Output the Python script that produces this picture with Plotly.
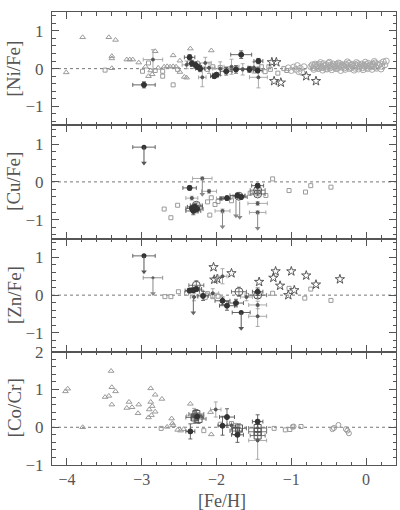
import plotly.graph_objects as go
from plotly.subplots import make_subplots

# ---------------- data ----------------
X_RANGE = [-4.2, 0.4]
X_TICKS = [-4, -3, -2, -1, 0]
PANEL_LABELS = ["[Ni/Fe]", "[Cu/Fe]", "[Zn/Fe]", "[Co/Cr]"]
PANEL_RANGES = [[-1.5, 1.5], [-1.5, 1.5], [-1.5, 1.5], [-1.0, 2.0]]
PANEL_TICKS = [[-1, 0, 1], [-1, 0, 1], [-1, 0, 1], [-1, 0, 1, 2]]

# ---- [Ni/Fe] ----
NI_TRI = [(-4.01, -0.10), (-3.79, 0.83), (-3.44, 0.83), (-3.35, 0.76), (-3.40, 0.33),
          (-3.40, 0.27), (-3.40, 0.01), (-3.20, 0.24), (-3.16, 0.24), (-3.12, 0.24),
          (-3.04, 0.16), (-2.95, 0.05), (-2.82, 0.46), (-2.88, -0.05), (-2.86, -0.15),
          (-2.91, -0.20), (-2.78, 0.02), (-2.70, 0.05), (-2.66, 0.06), (-2.62, 0.05),
          (-2.58, 0.06), (-2.54, 0.05), (-2.58, 0.35), (-2.49, -0.09), (-2.43, -0.22),
          (-2.49, 0.21), (-2.35, 0.53), (-2.40, -0.24), (-2.07, 0.48), (-2.25, 0.15)]
NI_SQ = [(-3.49, -0.04), (-2.99, -0.07), (-2.91, 0.15), (-2.72, -0.07), (-2.72, -0.20),
         (-2.58, -0.43), (-2.52, -0.02), (-2.82, -0.05), (-2.05, 0.05), (-2.12, -0.02),
         (-1.95, 0.03), (-1.55, 0.00), (-1.40, 0.05), (-1.35, -0.08), (-1.30, 0.05),
         (-1.28, -0.02), (-1.18, -0.12), (-1.10, 0.00), (-1.06, -0.05)]
NI_DISK = [(-1.04, 0.02), (-1.00, -0.05), (-0.97, 0.04), (-0.94, -0.02), (-0.92, 0.08),
           (-0.90, -0.08), (-0.88, 0.01), (-0.86, -0.10), (-0.83, 0.05),
           (-0.74, 0.05), (-0.72, 0.10), (-0.71, 0.02), (-0.69, 0.08), (-0.68, 0.12),
           (-0.66, 0.04), (-0.65, 0.09), (-0.63, 0.01), (-0.62, 0.11), (-0.60, 0.06),
           (-0.59, 0.03), (-0.57, 0.13), (-0.56, 0.07), (-0.54, 0.00), (-0.53, 0.10),
           (-0.51, 0.05), (-0.50, 0.14), (-0.48, 0.02), (-0.47, 0.09), (-0.45, 0.06),
           (-0.44, 0.12), (-0.42, 0.03), (-0.41, 0.08), (-0.39, 0.11), (-0.38, 0.01),
           (-0.36, 0.07), (-0.35, 0.13), (-0.33, 0.04), (-0.32, 0.10), (-0.30, 0.06),
           (-0.29, 0.02), (-0.27, 0.12), (-0.26, 0.08), (-0.24, 0.05), (-0.23, 0.14),
           (-0.21, 0.03), (-0.20, 0.09), (-0.18, 0.11), (-0.17, 0.06), (-0.15, 0.01),
           (-0.14, 0.10), (-0.12, 0.07), (-0.11, 0.13), (-0.09, 0.04), (-0.08, 0.08),
           (-0.06, 0.12), (-0.05, 0.02), (-0.03, 0.09), (-0.02, 0.06), (0.00, 0.11),
           (0.01, 0.03), (0.03, 0.14), (0.04, 0.07), (0.06, 0.10), (0.07, 0.05),
           (0.09, 0.12), (0.10, 0.08), (0.12, 0.15), (0.13, 0.04), (0.15, 0.11),
           (0.17, 0.09), (0.19, 0.13), (0.21, 0.06), (0.23, 0.18), (0.25, 0.10),
           (0.27, 0.20),
           (-0.70, -0.02), (-0.64, 0.00), (-0.58, -0.04), (-0.52, -0.01), (-0.46, -0.03),
           (-0.40, 0.00), (-0.34, -0.05), (-0.28, -0.02), (-0.22, 0.00), (-0.16, -0.04),
           (-0.10, -0.01), (-0.04, -0.03), (0.02, 0.00), (0.08, -0.02), (0.14, 0.01),
           (0.20, -0.01), (-0.61, 0.16), (-0.49, 0.17), (-0.37, 0.15), (-0.25, 0.18),
           (-0.13, 0.16), (-0.01, 0.17), (0.11, 0.19)]
NI_STAR = [(-1.20, 0.17), (-1.26, 0.17), (-1.23, -0.33), (-1.14, -0.37), (-0.80, -0.20),
           (-0.67, -0.33)]
# (x, y, x-error, y-error)
NI_DOT = [(-2.97, -0.43, 0.15, 0.08), (-2.36, 0.30, 0.07, 0.07), (-1.67, 0.37, 0.14, 0.10),
          (-1.44, 0.20, 0.06, 0.07), (-2.03, -0.20, 0.05, 0.05), (-2.00, -0.16, 0.05, 0.05),
          (-1.87, -0.07, 0.08, 0.10), (-1.74, -0.02, 0.08, 0.10), (-2.33, 0.14, 0.06, 0.08),
          (-2.28, 0.10, 0.06, 0.08), (-2.25, 0.04, 0.05, 0.06), (-2.22, 0.00, 0.06, 0.08),
          (-1.56, -0.02, 0.08, 0.08), (-1.45, -0.05, 0.06, 0.06)]
NI_SMALL = [(-2.85, 0.24, 0.13, 0.26), (-1.44, -0.23, 0.12, 0.28), (-2.19, -0.23, 0.05, 0.25),
            (-2.10, 0.02, 0.08, 0.15), (-1.95, 0.00, 0.10, 0.18), (-1.80, 0.05, 0.10, 0.20),
            (-1.65, -0.02, 0.10, 0.15), (-1.50, 0.03, 0.08, 0.15), (-2.40, 0.10, 0.06, 0.10),
            (-2.15, 0.15, 0.08, 0.15)]

# ---- [Cu/Fe] ----
CU_SQ = [(-2.70, -0.72), (-2.61, -0.95), (-2.52, -0.62), (-2.07, -0.42), (-2.12, -0.53),
         (-2.09, -0.88), (-1.98, -0.52), (-2.02, -0.60), (-1.34, -0.36), (-1.25, 0.08),
         (-1.03, -0.23), (-0.81, -0.27), (-0.74, -0.10), (-0.47, -0.14), (-1.80, -0.50),
         (-1.55, -0.30)]
CU_DOT = [(-2.36, -0.16, 0.09, 0.06), (-2.29, -0.66, 0.10, 0.08), (-2.31, -0.77, 0.10, 0.10),
          (-2.26, -0.72, 0.08, 0.10), (-2.33, -0.70, 0.08, 0.08), (-1.86, -0.43, 0.05, 0.05),
          (-1.72, -0.36, 0.10, 0.06), (-1.67, -0.40, 0.08, 0.06), (-1.45, -0.10, 0.08, 0.05)]
CU_DOT_UL = [(-2.97, 0.92, 0.15)]
CU_SMALL = [(-2.19, 0.09, 0.13, 0.04), (-2.33, -0.43, 0.08, 0.05), (-1.45, -0.57, 0.13, 0.05),
            (-1.92, -0.77, 0.10, 0.05), (-1.45, -0.81, 0.11, 0.04), (-1.94, -0.44, 0.06, 0.05),
            (-2.10, -0.25, 0.10, 0.05)]
CU_SMALL_UL = [(-2.19, 0.09), (-1.92, -0.77), (-1.45, -0.81), (-1.74, -0.48), (-1.69, -0.52)]
CU_BIG = [(-1.45, -0.22, 0.10, 0.05), (-1.45, -0.32, 0.10, 0.05), (-2.27, -0.62, 0.08, 0.06),
          (-1.70, -0.38, 0.08, 0.05)]

# ---- [Zn/Fe] ----
ZN_SQ = [(-2.69, -0.04), (-2.61, -0.04), (-2.51, 0.09), (-2.12, 0.04), (-2.05, -0.04),
         (-1.98, -0.03), (-2.15, -0.06), (-1.25, 0.05), (-1.03, 0.18), (-0.82, -0.08),
         (-0.74, 0.16), (-0.47, -0.14), (-2.40, 0.05), (-2.20, 0.08)]
ZN_STAR = [(-2.04, 0.74), (-2.03, 0.41), (-1.99, 0.43), (-1.80, 0.58), (-1.43, 0.35),
           (-1.24, 0.46), (-1.21, 0.63), (-1.15, 0.25), (-1.00, 0.63), (-1.04, 0.00),
           (-0.96, 0.13), (-0.80, 0.52), (-0.67, 0.28), (-0.35, 0.42)]
ZN_DOT = [(-2.31, 0.13, 0.08, 0.06), (-2.36, 0.12, 0.06, 0.06), (-2.27, 0.16, 0.07, 0.06),
          (-2.18, -0.02, 0.07, 0.12), (-1.92, -0.15, 0.10, 0.10), (-1.86, -0.28, 0.10, 0.12),
          (-1.74, -0.21, 0.10, 0.10), (-1.45, 0.09, 0.07, 0.10)]
ZN_DOT_UL = [(-2.97, 1.04, 0.15), (-1.67, -0.46, 0.12)]
ZN_SMALL = [(-1.92, 0.50, 0.06, 0.20), (-1.45, -0.26, 0.12, 0.10), (-1.45, -0.56, 0.12, 0.27),
            (-2.30, -0.05, 0.05, 0.10), (-2.05, 0.05, 0.08, 0.12), (-1.60, -0.05, 0.08, 0.10)]
ZN_SMALL_UL = [(-2.85, 0.46, 0.13)]
ZN_ARROW_UL = [(-2.31, -0.05)]
ZN_BIG = [(-2.27, 0.26, 0.10, 0.12), (-1.70, 0.09, 0.10, 0.12), (-1.45, 0.00, 0.12, 0.08)]

# ---- [Co/Cr] ----
CO_TRI = [(-4.02, 0.95), (-3.99, 1.02), (-3.79, 0.00), (-3.49, 0.80), (-3.44, 0.83),
          (-3.41, 1.49), (-3.40, 1.06), (-3.35, 0.95), (-3.40, 0.60), (-3.20, 0.51),
          (-3.17, 0.67), (-3.13, 0.53), (-3.04, 0.60), (-3.05, 0.37), (-2.88, 1.03),
          (-2.88, 0.67), (-2.90, 0.47), (-2.91, 0.26), (-2.87, 0.32), (-2.86, 0.56),
          (-2.82, 0.86), (-2.82, 0.41), (-2.73, 0.75), (-2.66, 0.01), (-2.60, 0.23),
          (-2.59, 0.10), (-2.58, 0.05), (-2.52, -0.07), (-2.48, -0.09), (-2.44, -0.05),
          (-2.35, 0.62), (-2.08, 0.40), (-2.07, -0.19)]
CO_SQ = [(-2.74, -0.03), (-2.17, -0.09), (-1.23, -0.03), (-1.08, -0.07), (-1.02, -0.06),
         (-0.98, 0.01), (-0.87, 0.02), (-1.95, 0.08), (-1.80, 0.10), (-1.75, 0.05)]
CO_CIRC = [(-0.45, -0.05), (-0.43, -0.02), (-0.37, 0.06), (-0.27, -0.05), (-0.25, -0.09),
           (-0.23, -0.16), (-0.97, 0.02)]
CO_DOT = [(-2.35, -0.11, 0.06, 0.20), (-1.92, 0.04, 0.06, 0.25), (-1.86, 0.27, 0.10, 0.22),
          (-1.72, -0.20, 0.08, 0.20), (-1.45, 0.15, 0.07, 0.18), (-2.26, 0.28, 0.08, 0.10)]
CO_BIG = [(-2.29, 0.26, 0.12, 0.15), (-2.27, 0.35, 0.10, 0.12), (-2.24, 0.22, 0.10, 0.12),
          (-1.70, -0.03, 0.10, 0.12), (-1.45, -0.02, 0.12, 0.12), (-1.45, -0.12, 0.12, 0.10),
          (-1.45, -0.22, 0.10, 0.10), (-1.74, -0.10, 0.08, 0.10)]
CO_SMALL = [(-2.01, 0.47, 0.07, 0.20), (-1.45, -0.35, 0.12, 0.50), (-1.80, 0.05, 0.05, 0.10),
            (-2.30, 0.30, 0.10, 0.20)]

# ---------------- style ----------------
FONT = "Liberation Serif, DejaVu Serif, serif"
TXT = "#555555"
FRAME = "#555555"
GREY = "#9a9a9a"
DARK = "#333333"
MID = "#555555"
ARROW = 0.42

fig = make_subplots(rows=4, cols=1, shared_xaxes=True, vertical_spacing=0)


def col(pts, i):
    return [p[i] for p in pts]


def add_open(row, pts, symbol, size, color, width=1):
    if not pts:
        return
    fig.add_trace(go.Scatter(x=col(pts, 0), y=col(pts, 1), mode="markers",
                             marker=dict(symbol=symbol, size=size, color=color,
                                         line=dict(width=width, color=color)),
                             showlegend=False, hoverinfo="skip"), row=row, col=1)


def add_err(row, pts, symbol, size, color, ecolor):
    if not pts:
        return
    fig.add_trace(go.Scatter(
        x=col(pts, 0), y=col(pts, 1), mode="markers",
        marker=dict(symbol=symbol, size=size, color=color, line=dict(width=1, color=color)),
        error_x=dict(type="data", array=col(pts, 2), color=ecolor, thickness=0.9, width=2),
        error_y=dict(type="data", array=col(pts, 3), color=ecolor, thickness=0.9, width=2),
        showlegend=False, hoverinfo="skip"), row=row, col=1)


def add_ul(row, pts, color):
    xs, ys = [], []
    for p in pts:
        xs += [p[0], p[0], None]
        ys += [p[1], p[1] - ARROW, None]
    fig.add_trace(go.Scatter(x=xs, y=ys, mode="lines", line=dict(color=color, width=1),
                             showlegend=False, hoverinfo="skip"), row=row, col=1)
    fig.add_trace(go.Scatter(x=col(pts, 0), y=[p[1] - ARROW for p in pts], mode="markers",
                             marker=dict(symbol="triangle-down", size=5, color=color),
                             showlegend=False, hoverinfo="skip"), row=row, col=1)


def add_ul_err(row, pts, size, color, ecolor):
    fig.add_trace(go.Scatter(
        x=col(pts, 0), y=col(pts, 1), mode="markers",
        marker=dict(symbol="circle", size=size, color=color),
        error_x=dict(type="data", array=col(pts, 2), color=ecolor, thickness=0.9, width=2),
        showlegend=False, hoverinfo="skip"), row=row, col=1)
    add_ul(row, pts, ecolor)


# Panel 1: Ni
add_open(1, NI_DISK, "circle-open", 6, "#a8a8a8")
add_open(1, NI_TRI, "triangle-up-open", 5, GREY)
add_open(1, NI_SQ, "square-open", 4, GREY)
add_err(1, NI_SMALL, "circle", 3, MID, "#a0a0a0")
add_open(1, NI_STAR, "star-open", 7, MID)
add_err(1, NI_DOT, "circle", 5, DARK, "#555555")

# Panel 2: Cu
add_open(2, CU_SQ, "square-open", 4, GREY)
add_err(2, CU_SMALL, "circle", 3, MID, "#a0a0a0")
add_ul(2, CU_SMALL_UL, "#888888")
add_err(2, CU_BIG, "circle-open", 8, MID, "#666666")
add_err(2, CU_DOT, "circle", 5, DARK, "#555555")
add_ul_err(2, CU_DOT_UL, 5, DARK, "#555555")

# Panel 3: Zn
add_open(3, ZN_SQ, "square-open", 4, GREY)
add_open(3, ZN_STAR, "star-open", 7, MID)
add_err(3, ZN_SMALL, "circle", 3, MID, "#a0a0a0")
add_ul_err(3, ZN_SMALL_UL, 3, MID, "#888888")
add_ul(3, ZN_ARROW_UL, "#666666")
add_err(3, ZN_BIG, "circle-open", 8, MID, "#666666")
add_err(3, ZN_DOT, "circle", 5, DARK, "#555555")
add_ul_err(3, ZN_DOT_UL, 5, DARK, "#555555")

# Panel 4: Co/Cr
add_open(4, CO_TRI, "triangle-up-open", 5, GREY)
add_open(4, CO_SQ, "square-open", 4, GREY)
add_open(4, CO_CIRC, "circle-open", 5, GREY)
add_err(4, CO_SMALL, "circle", 3, MID, "#a0a0a0")
add_err(4, CO_BIG, "square-open", 7, MID, "#666666")
add_err(4, CO_DOT, "circle", 5, DARK, "#555555")

# axes
for r in range(1, 5):
    fig.update_yaxes(range=PANEL_RANGES[r - 1], tickvals=PANEL_TICKS[r - 1],
                     ticks="inside", ticklen=7, tickwidth=1, tickcolor=FRAME,
                     minor=dict(ticks="inside", dtick=0.2, ticklen=3.5, tickcolor=FRAME, tickwidth=1),
                     showline=True, linecolor=FRAME, linewidth=1, mirror="allticks",
                     showgrid=False, zeroline=False, ticklabelstandoff=4,
                     tickfont=dict(family=FONT, size=17, color=TXT), row=r, col=1)
    fig.update_xaxes(range=X_RANGE, tickvals=X_TICKS,
                     ticks="inside", ticklen=7, tickwidth=1, tickcolor=FRAME,
                     minor=dict(ticks="inside", dtick=0.2, ticklen=3.5, tickcolor=FRAME, tickwidth=1),
                     showline=True, linecolor=FRAME, linewidth=1, mirror="allticks",
                     showgrid=False, zeroline=False,
                     tickfont=dict(family=FONT, size=16, color=TXT), row=r, col=1)
    yref = "y" if r == 1 else "y%d" % r
    xref = "x" if r == 1 else "x%d" % r
    fig.add_shape(type="line", xref=xref + " domain", yref=yref, x0=0, x1=1, y0=0, y1=0,
                  line=dict(color="#777777", width=1, dash="dot"), layer="below")

W, H = 400, 510
ML, MR, MT, MB = 52, 4, 3, 45
pw = W - ML - MR
ph = H - MT - MB
for r in range(1, 5):
    fig.add_annotation(text=PANEL_LABELS[r - 1], xref="paper", yref="paper",
                       x=(14 - ML) / pw, y=1 - (r - 0.5) / 4, textangle=-90,
                       showarrow=False, xanchor="center", yanchor="middle",
                       font=dict(family=FONT, size=19, color=TXT))
fig.add_annotation(text="[Fe/H]", xref="paper", yref="paper",
                   x=(222 - ML) / pw, y=-(502 - (H - MB)) / ph, showarrow=False,
                   xanchor="center", yanchor="middle",
                   font=dict(family=FONT, size=18, color=TXT))

fig.update_layout(width=W, height=H, margin=dict(l=ML, r=MR, t=MT, b=MB),
                  plot_bgcolor="white", paper_bgcolor="white", showlegend=False)
fig.write_html("out.html", config={"displayModeBar": False},
               post_script="document.body.style.margin='0';document.body.style.padding='0';")
